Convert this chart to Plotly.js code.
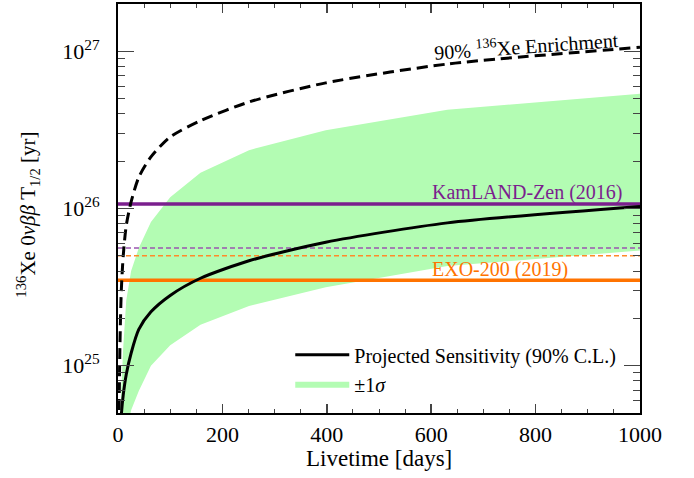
<!DOCTYPE html>
<html>
<head>
<meta charset="utf-8">
<script src="https://cdn.plot.ly/plotly-3.0.1.min.js"></script>
<style>html,body{margin:0;padding:0;background:#fff;}#chart{width:694px;height:478px;}</style>
</head>
<body>
<div id="chart"></div>
<script>
// Livetime grid [days]
const days = [1, 1.58, 2.51, 3.98, 6.31, 10, 15.8, 25.1, 39.8, 63.1, 100, 158, 251, 398, 631, 1000];
// Projected sensitivity median (90% C.L.) [yr]
const sensMedian = [1.0e24, 1.6e24, 2.3e24, 3.2e24, 4.8e24, 6.5e24, 8.8e24, 1.2e25, 1.7e25, 2.2e25, 2.8e25, 3.6e25, 4.65e25, 6.1e25, 8.1e25, 1.03e26];
// +/- 1 sigma band
const sensUpper = [6e23, 1.2e24, 2.2e24, 4.0e24, 7.0e24, 1.3e25, 2.6e25, 4.0e25, 5.6e25, 8.2e25, 1.18e26, 1.69e26, 2.35e26, 3.15e26, 4.25e26, 5.37e26];
const sensLower = [1e23, 2e23, 4e23, 7e23, 1.3e24, 2.3e24, 3.5e24, 5.2e24, 6.9e24, 1.0e25, 1.35e25, 1.82e25, 2.4e25, 3.15e25, 4.3e25, 5.4e25];
// 90% 136Xe enrichment sensitivity
const sensEnriched = [1.5e24, 3.0e24, 7.0e24, 1.5e25, 3.0e25, 5.0e25, 7.8e25, 1.1e26, 1.58e26, 2.13e26, 2.85e26, 3.62e26, 4.76e26, 6.3e26, 8.3e26, 1.06e27];
// Existing results
const kamlandLimit = 1.07e26;
const kamlandSens = 5.6e25;
const exoLimit = 3.5e25;
const exoSens = 5.0e25;
const xSpan = [0, 1000];
const xTicks = [0, 200, 400, 600, 800, 1000];
const yTicks = [1e25, 1e26, 1e27];
const yTickText = ['10<sup>25</sup>', '10<sup>26</sup>', '10<sup>27</sup>'];

const purple = '#7b1f8e', purpleLight = '#9a55b0';
const orange = '#ff7300', orangeLight = '#ff8a2a';
const green = '#b3fcb3';

const minorY = [];
for (let e = 24; e <= 27; e++) for (let m = 2; m <= 9; m++) minorY.push(m * Math.pow(10, e));

const traces = [
  {x: days, y: sensLower, mode: 'lines', line: {width: 0, color: green}, showlegend: false, hoverinfo: 'skip'},
  {x: days, y: sensUpper, mode: 'lines', fill: 'tonexty', fillcolor: green, line: {width: 0, color: green}, name: '±1<i>σ</i>', legendrank: 2},
  {x: xSpan, y: [kamlandSens, kamlandSens], mode: 'lines', line: {color: purpleLight, width: 1.5, dash: '5px,3px'}, showlegend: false},
  {x: xSpan, y: [exoSens, exoSens], mode: 'lines', line: {color: orangeLight, width: 1.5, dash: '5px,3px'}, showlegend: false},
  {x: xSpan, y: [kamlandLimit, kamlandLimit], mode: 'lines', line: {color: purple, width: 3.5}, showlegend: false},
  {x: xSpan, y: [exoLimit, exoLimit], mode: 'lines', line: {color: orange, width: 3.5}, showlegend: false},
  {x: days, y: sensEnriched, mode: 'lines', line: {color: 'black', width: 3, dash: '11px,6px', shape: 'spline', smoothing: 0.7}, showlegend: false},
  {x: days, y: sensMedian, mode: 'lines', line: {color: 'black', width: 3, shape: 'spline', smoothing: 0.7}, name: 'Projected Sensitivity (90% C.L.)', legendrank: 1}
];

const font = 'Liberation Serif';
const layout = {
  width: 694, height: 478,
  margin: {l: 118, r: 54, t: 4, b: 65},
  paper_bgcolor: 'white', plot_bgcolor: 'white',
  font: {family: font, color: 'black', size: 20},
  showlegend: true,
  legend: {x: 0.33, y: 0.19, xanchor: 'left', yanchor: 'top', bgcolor: 'rgba(0,0,0,0)', traceorder: 'normal',
           font: {family: font, size: 20}, itemwidth: 54, tracegroupgap: 0},
  xaxis: {
    range: [0, 1000], tickvals: xTicks, ticks: 'inside', ticklen: 9, tickwidth: 1.5,
    mirror: 'ticks', showline: true, linewidth: 2, linecolor: 'black', showgrid: false, zeroline: false,
    tickfont: {family: font, size: 22}, ticklabelstandoff: 1,
    minor: {ticks: 'inside', ticklen: 4, tickwidth: 1, dtick: 50, showgrid: false}
  },
  yaxis: {
    type: 'log', range: [Math.log10(5e24), Math.log10(2e27)],
    tickvals: yTicks, ticktext: yTickText, ticks: 'inside', ticklen: 16, tickwidth: 1.5,
    mirror: 'ticks', showline: true, linewidth: 2, linecolor: 'black', showgrid: false, zeroline: false,
    tickfont: {family: font, size: 22}, ticklabelstandoff: 12,
    minor: {ticks: 'inside', ticklen: 7, tickwidth: 1, tickvals: minorY, showgrid: false}
  },
  annotations: [
    {xref: 'x', yref: 'y', x: 782, y: 27.04, text: '90% <sup>136</sup>Xe Enrichment', showarrow: false, textangle: -4, font: {family: font, size: 20}},
    {xref: 'x', yref: 'y', x: 784, y: 26.1, text: 'KamLAND-Zen (2016)', showarrow: false, font: {family: font, size: 20, color: purple}},
    {xref: 'x', yref: 'y', x: 732, y: 25.612, text: 'EXO-200 (2019)', showarrow: false, font: {family: font, size: 20, color: orange}},
    {xref: 'paper', yref: 'paper', x: 0, y: 0.485, xshift: -90, xanchor: 'center', yanchor: 'middle', textangle: -90, showarrow: false,
     text: '<sup>136</sup>Xe 0<i>νββ</i> T<sub>1/2</sub> [yr]', font: {family: font, size: 21}},
    {xref: 'paper', yref: 'paper', x: 0.5, y: 0, yshift: -45, xanchor: 'center', yanchor: 'middle', showarrow: false,
     text: 'Livetime [days]', font: {family: font, size: 23}}
  ]
};

Plotly.newPlot('chart', traces, layout, {displayModeBar: false, staticPlot: true});
</script>
</body>
</html>
